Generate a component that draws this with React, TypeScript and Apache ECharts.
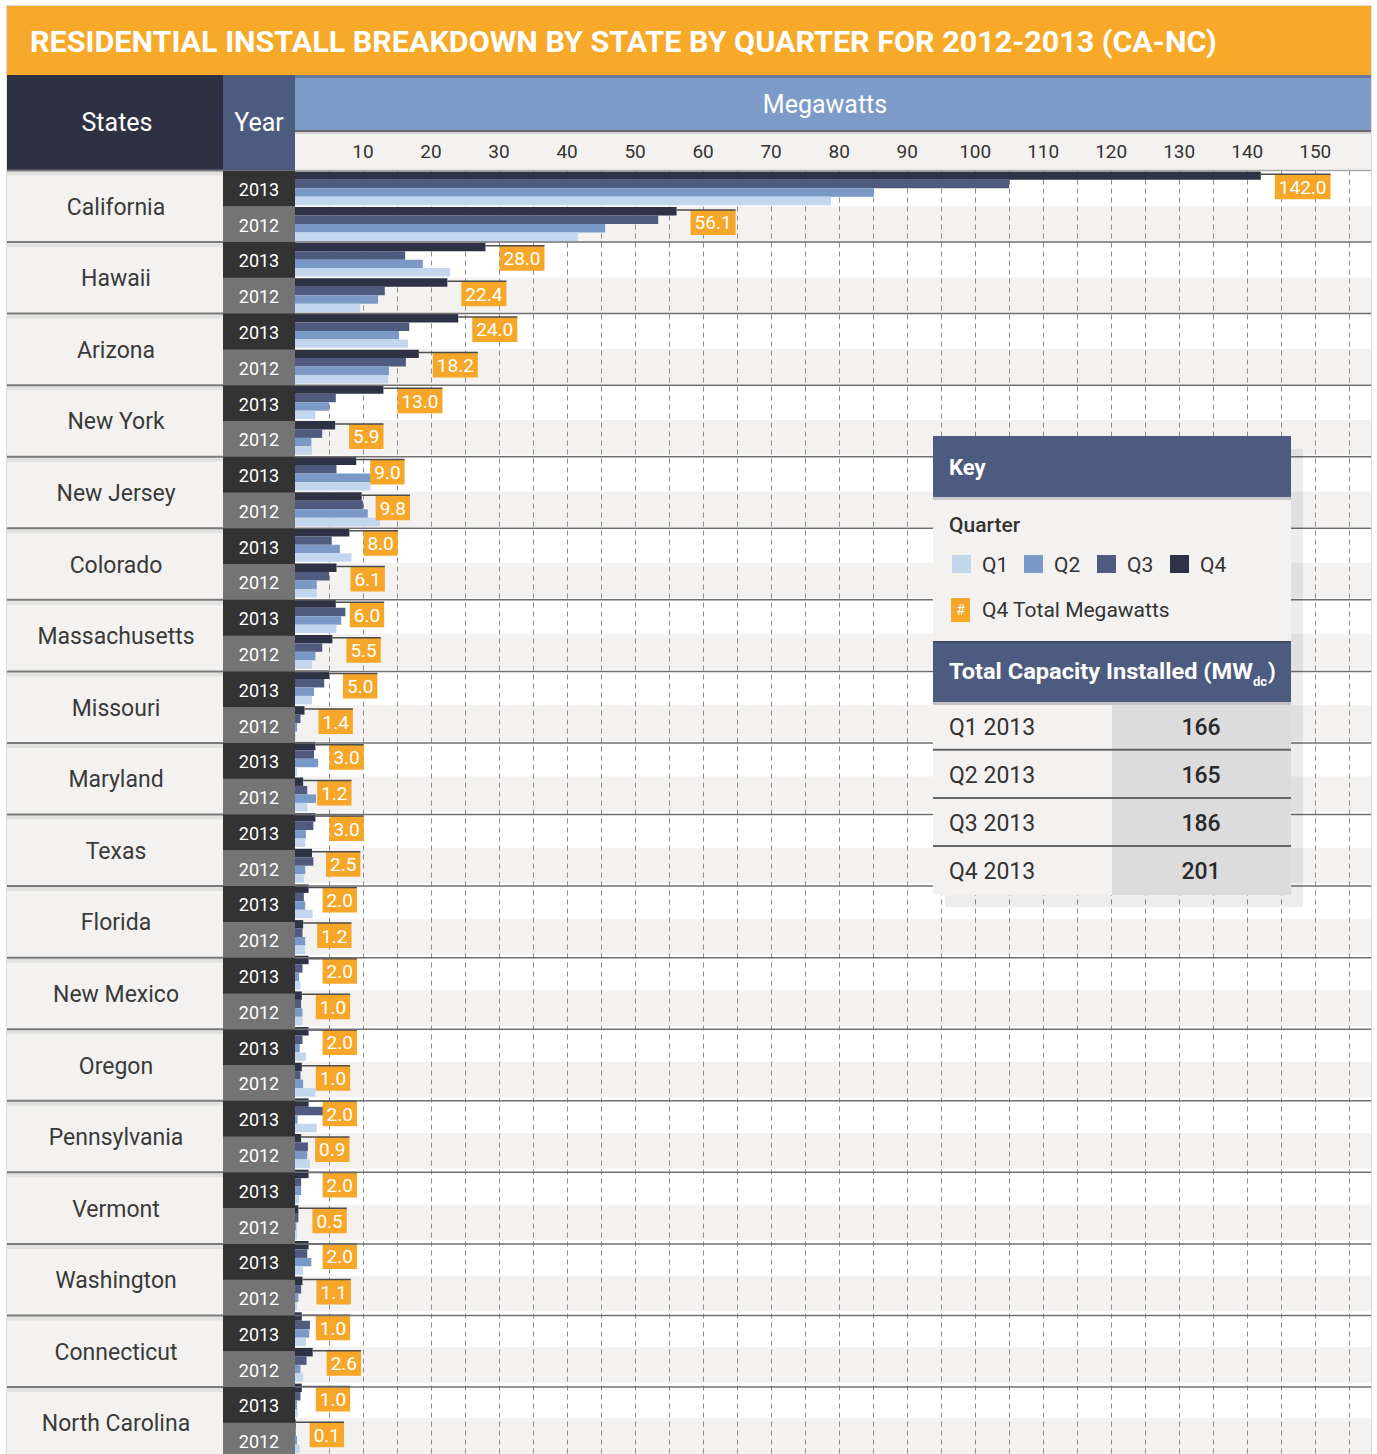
import React, { useEffect, useRef } from 'react';
import * as echarts from 'echarts';

// ---------------- data ----------------
const STATES = ['California', 'Hawaii', 'Arizona', 'New York', 'New Jersey', 'Colorado', 'Massachusetts', 'Missouri', 'Maryland', 'Texas', 'Florida', 'New Mexico', 'Oregon', 'Pennsylvania', 'Vermont', 'Washington', 'Connecticut', 'North Carolina'];
const YEARS = ['2013', '2012'];

const Q1_2013 = [78.8, 22.8, 16.6, 3.0, 11.1, 8.3, 6.1, 2.5, 0.3, 1.5, 2.6, 0.8, 1.6, 3.2, 0.6, 1.2, 1.6, 0.4];
const Q2_2013 = [85.1, 18.8, 15.3, 5.0, 11.4, 6.6, 6.8, 2.8, 3.4, 1.6, 1.5, 0.6, 0.7, 0.4, 0.9, 2.4, 2.1, 0.3];
const Q3_2013 = [105.0, 16.2, 16.8, 6.0, 6.1, 5.4, 7.4, 4.3, 2.8, 2.7, 1.3, 1.1, 1.1, 4.5, 0.9, 1.8, 2.2, 0.8];
const Q4_2013 = [142.0, 28.0, 24.0, 13.0, 9.0, 8.0, 6.0, 5.0, 3.0, 3.0, 2.0, 2.0, 2.0, 2.0, 2.0, 2.0, 1.0, 1.0];

const Q1_2012 = [41.6, 9.6, 13.7, 2.5, 12.5, 3.2, 2.5, 0.1, 1.8, 1.3, 1.5, 1.1, 3.0, 2.2, 0.3, 0.3, 1.2, 0.7];
const Q2_2012 = [45.6, 12.2, 13.8, 2.4, 10.7, 3.2, 3.0, 0.3, 3.1, 1.5, 1.5, 1.1, 1.2, 1.8, 0.2, 0.5, 0.8, 0.3];
const Q3_2012 = [53.4, 13.2, 16.3, 4.0, 10.0, 5.0, 4.0, 0.8, 1.8, 2.7, 1.1, 0.9, 0.8, 1.9, 0.5, 0.9, 1.7, 0.1];
const Q4_2012 = [56.1, 22.4, 18.2, 5.9, 9.8, 6.1, 5.5, 1.4, 1.2, 2.5, 1.2, 1.0, 1.0, 0.9, 0.5, 1.1, 2.6, 0.1];

const QUARTERS = ['Q1', 'Q2', 'Q3', 'Q4'];
const TOTAL_LABELS = ['Q1 2013', 'Q2 2013', 'Q3 2013', 'Q4 2013'];
const TOTAL_VALUES = [166, 165, 186, 201];

const TITLE = 'RESIDENTIAL INSTALL BREAKDOWN BY STATE BY QUARTER FOR 2012-2013 (CA-NC)';

// ---------------- style / layout ----------------
const FF = 'Roboto, "DejaVu Sans", sans-serif';
const COLORS = { Q1: '#c2d7ee', Q2: '#7b99c6', Q3: '#4e5a7e', Q4: '#2e3245' };
const ORANGE = '#f6a729';
const W = 1377;
const H = 1454;
const PLOT_L = 295;
const PLOT_R = 1371;
const GRID_TOP = 170.5;
const SUB_H = 35.78;
const X_MAX = 158.2;

let _ctx: CanvasRenderingContext2D | null = null;
function measure(text: string, font: string): number {
  if (!_ctx) _ctx = document.createElement('canvas').getContext('2d');
  if (!_ctx) return text.length * 10;
  _ctx.font = font;
  return _ctx.measureText(text).width;
}
const font = (size: number, weight: string | number = 'normal') => `${weight} ${size}px ${FF}`;

function txt(text: string, x: number, y: number, o: any = {}) {
  const align = o.align ?? 'left';
  return {
    type: 'text', x, y, z: o.z ?? 2, scaleX: o.scaleX ?? 1, silent: true,
    style: {
      text, fill: o.fill ?? '#333', font: font(o.size ?? 20, o.weight ?? 'normal'),
      align, textAlign: align, verticalAlign: 'middle', textVerticalAlign: 'middle',
    },
  };
}
function rect(x: number, y: number, w: number, h: number, fill: string, z = 0) {
  return { type: 'rect', z, silent: true, shape: { x, y, width: w, height: h }, style: { fill } };
}
function line(x1: number, y1: number, x2: number, y2: number, stroke: string, lw: number, z = 10) {
  return { type: 'line', z, silent: true, shape: { x1, y1, x2, y2 }, style: { stroke, lineWidth: lw } };
}

function buildGraphics() {
  const els: any[] = [];
  // frame
  els.push({ type: 'rect', z: -2, silent: true, shape: { x: 6.5, y: 5.5, width: 1365, height: 1460 }, style: { fill: '#fff', stroke: '#dcdcdc', lineWidth: 1 } });
  // title bar
  els.push(rect(7, 6, 1364, 69, '#f7a92a', 0));
  const tFont = font(30, 'bold');
  const tw = measure(TITLE, tFont);
  els.push(txt(TITLE, 30, 42, { size: 30, weight: 'bold', fill: '#fff', scaleX: 1187 / tw }));
  // header cells
  els.push(rect(7, 75, 216, 95.5, '#2d3142', 0));
  els.push(rect(223, 75, 72, 95.5, '#4e5b80', 0));
  els.push(rect(295, 75, 1076, 55, '#7d9bc8', 0));
  els.push(rect(295, 75, 1076, 3, '#66799f', 1));
  els.push(rect(295, 130, 1076, 40.5, '#f3f2f1', -1));
  els.push(rect(295, 130, 1076, 2, '#6a6a6a', 1));
  els.push(rect(295, 132, 1076, 2, '#d4d4d4', 1));
  els.push(txt('States', 117, 122, { size: 25, fill: '#fff', align: 'center' }));
  els.push(txt('Year', 259, 122, { size: 25, fill: '#fff', align: 'center' }));
  els.push(txt('Megawatts', 825, 104, { size: 25, fill: '#fff', align: 'center' }));

  // rows
  STATES.forEach((s, i) => {
    const top = GRID_TOP + i * 2 * SUB_H;
    els.push(rect(7, top, 216, 2 * SUB_H, '#f3f2f1', 0));
    els.push(rect(7, top + 1, 216, 4, '#e2e2e1', 1));
    els.push(txt(s, 116, top + SUB_H + 1, { size: 23, fill: '#3a3a3a', align: 'center' }));
    YEARS.forEach((y, j) => {
      const t = top + j * SUB_H;
      els.push(rect(223, t, 72, SUB_H + 0.5, j === 0 ? '#333333' : '#747474', 0));
      els.push(txt(y, 259, t + SUB_H / 2 + 1, { size: 18, fill: '#fff', align: 'center' }));
    });
    els.push(line(7, top, 223, top, '#7a7a7a', 2, 10));
    els.push(line(295, top, 1371, top, i === 0 ? '#a8a8a8' : '#707070', 1.5, 10));
  });

  // key box
  const KX = 933, KW = 358;
  els.push(rect(945, 449, 358, 458, 'rgba(0,0,0,0.07)', 99));
  els.push(rect(KX, 436, KW, 61, '#4e5b80', 100));
  els.push(rect(KX, 497, KW, 145, '#f3f2f1', 100));
  els.push(rect(KX, 497, KW, 3, '#c9c9c9', 100));
  els.push(txt('Key', 949, 467, { size: 22, weight: 'bold', fill: '#fff', z: 101 }));
  els.push(txt('Quarter', 949, 525, { size: 21, weight: 500, fill: '#333', z: 101 }));
  const swX = [952, 1024, 1097, 1170];
  QUARTERS.forEach((q, k) => {
    els.push(rect(swX[k], 555, 19, 18, (COLORS as any)[q], 101));
    els.push(txt(q, swX[k] + 30, 565, { size: 21, fill: '#333', z: 101 }));
  });
  els.push(rect(951, 598, 19, 24, ORANGE, 101));
  els.push(txt('#', 960.5, 610, { size: 14, fill: '#fff', align: 'center', z: 102 }));
  els.push(txt('Q4 Total Megawatts', 982, 610, { size: 21, fill: '#333', z: 101 }));

  els.push(rect(KX, 641, KW, 61, '#4e5b80', 100));
  els.push(rect(KX, 641, KW, 2, '#3e4966', 100));
  const hText = 'Total Capacity Installed (MW';
  const hFont = font(22, 'bold');
  const hw = measure(hText, hFont);
  const hs = 304 / hw;
  els.push(txt(hText, 949, 672, { size: 22, weight: 'bold', fill: '#fff', z: 101, scaleX: hs }));
  els.push(txt('dc', 1253, 681, { size: 13, weight: 'bold', fill: '#fff', z: 101 }));
  els.push(txt(')', 1268, 671, { size: 22, weight: 'bold', fill: '#fff', z: 101 }));

  els.push(rect(KX, 702, 179, 193, '#f3f2f1', 100));
  els.push(rect(1112, 702, 179, 193, '#dcdcdc', 100));
  els.push(rect(KX, 702, KW, 3, '#c4c4c4', 100));
  TOTAL_LABELS.forEach((lab, k) => {
    const top = 702 + k * 48.2;
    if (k > 0) els.push(line(KX, top - 0.5, KX + KW, top - 0.5, '#666', 2, 101));
    els.push(txt(lab, 949, top + 25, { size: 23, fill: '#333', z: 101 }));
    els.push(txt(String(TOTAL_VALUES[k]), 1201, top + 25, { size: 23, weight: 500, fill: '#2a2a2a', align: 'center', z: 101 }));
  });
  return els;
}

function App() {
  const ref = useRef<HTMLDivElement>(null);
  useEffect(() => {
    if (!ref.current) return;
    const chart = echarts.init(ref.current, undefined, { renderer: 'svg' });

    const categories: string[] = [];
    STATES.forEach((s) => YEARS.forEach((y) => categories.push(`${s} ${y}`)));
    const inter = (a: number[], b: number[]) => a.flatMap((v, i) => [v, b[i]]);
    const q1 = inter(Q1_2013, Q1_2012);
    const q2 = inter(Q2_2013, Q2_2012);
    const q3 = inter(Q3_2013, Q3_2012);
    const q4 = inter(Q4_2013, Q4_2012);
    const calloutData = q4.map((v, i) => [v, i]);

    const barBase = { type: 'bar', barGap: '0%', barCategoryGap: '5%', silent: true, z: 3 };

    chart.setOption({
      animation: false,
      backgroundColor: '#ffffff',
      grid: { left: PLOT_L, top: GRID_TOP, width: PLOT_R - PLOT_L, height: SUB_H * categories.length, containLabel: false },
      xAxis: {
        type: 'value', position: 'top', min: 0, max: X_MAX, interval: 5,
        axisLine: { show: false }, axisTick: { show: false },
        axisLabel: {
          formatter: (v: number) => (v > 0 && v % 10 === 0 ? String(v) : ''),
          color: '#333', fontSize: 19, fontFamily: FF, margin: 19, verticalAlign: 'middle',
          showMinLabel: false, showMaxLabel: false,
        },
        splitLine: { show: true, showMinLine: false, showMaxLine: false, lineStyle: { color: '#8c8c8c', width: 1, type: [5, 4] } },
      },
      yAxis: {
        type: 'category', inverse: true, data: categories,
        axisLine: { show: false }, axisTick: { show: false }, axisLabel: { show: false, interval: 0 },
        splitLine: { show: false },
        splitArea: { show: true, interval: 0, areaStyle: { color: ['#ffffff', '#f3f2f1'] } },
      },
      series: [
        { ...barBase, name: 'Q4', data: q4, itemStyle: { color: COLORS.Q4 } },
        { ...barBase, name: 'Q3', data: q3, itemStyle: { color: COLORS.Q3 } },
        { ...barBase, name: 'Q2', data: q2, itemStyle: { color: COLORS.Q2 } },
        { ...barBase, name: 'Q1', data: q1, itemStyle: { color: COLORS.Q1 } },
        {
          type: 'custom', name: 'Q4 Total', silent: true, z: 6, clip: false,
          encode: { x: 0, y: 1 },
          data: calloutData,
          renderItem: (params: any, api: any) => {
            const v = api.value(0);
            const idx = api.value(1);
            const p = api.coord([v, idx]);
            const label = q4[params.dataIndex].toFixed(1);
            const f = font(19);
            const w = measure(label, f) + 8;
            const bx = p[0] + 14;
            const by = p[1] - 14;
            return {
              type: 'group',
              children: [
                { type: 'rect', shape: { x: bx, y: by, width: w, height: 25 }, style: { fill: ORANGE } },
                { type: 'text', x: bx + w / 2, y: by + 13, style: { text: label, fill: '#fff', font: f, align: 'center', verticalAlign: 'middle' } },
                { type: 'line', shape: { x1: p[0], y1: by, x2: bx + w, y2: by }, style: { stroke: '#4d4d4d', lineWidth: 1.5 } },
              ],
            };
          },
        },
      ],
      graphic: { elements: buildGraphics() },
    });
    return () => chart.dispose();
  }, []);
  return <div ref={ref} style={{ position: 'fixed', left: 0, top: 0, width: W, height: H, background: '#fff' }} />;
}

export default App;
